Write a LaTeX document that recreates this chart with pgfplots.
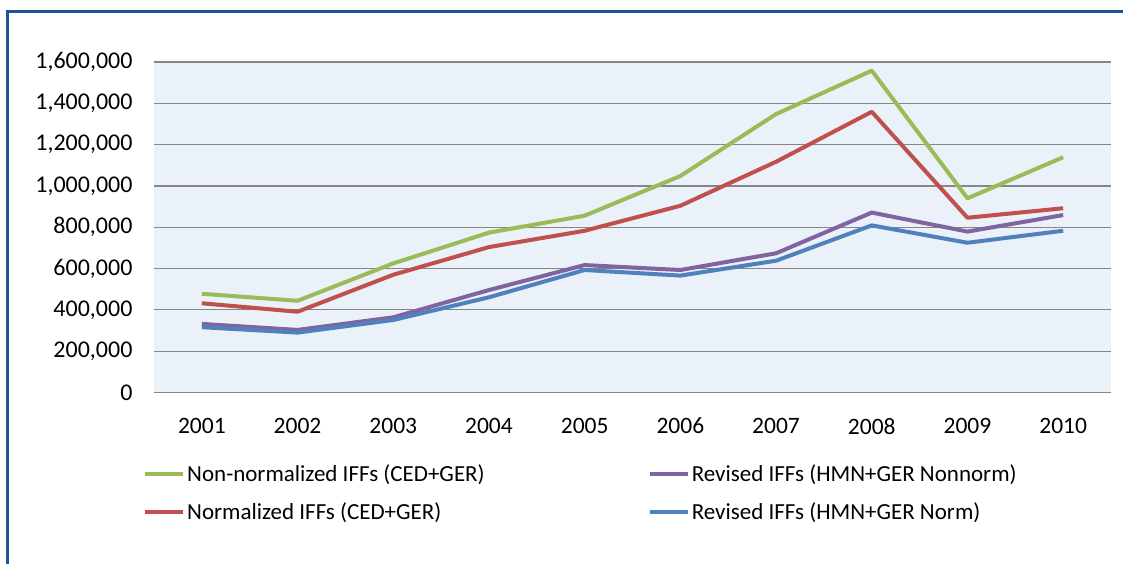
\documentclass[border=0pt]{standalone}
\usepackage{pgfplots}
\pgfplotsset{compat=1.18}
\usepackage{fontspec}
\setmainfont{Carlito}
\definecolor{cgreen}{HTML}{9BBB59}
\definecolor{cred}{HTML}{C0504D}
\definecolor{cpurple}{HTML}{8064A2}
\definecolor{cblue}{HTML}{4F81BD}
\definecolor{cbg}{HTML}{EAF1F8}
\definecolor{cgrid}{HTML}{868686}
\definecolor{cframe}{HTML}{1B5497}
\begin{document}
\begin{tikzpicture}
\useasboundingbox (0pt,0pt) rectangle (1123pt,563pt);
\fill[white] (0pt,0pt) rectangle (1123pt,563pt);
\draw[cframe, line width=3pt] (7pt,-10pt) -- (7pt,551pt) -- (1130pt,551pt);
\begin{axis}[
  at={(154pt,170.5pt)}, anchor=south west,
  scale only axis, width=957pt, height=330.5pt,
  xmin=0.5, xmax=10.5, ymin=0, ymax=1600000,
  xtick={1,...,10},
  xticklabels={2001,2002,2003,2004,2005,2006,2007,2008,2009,2010},
  ytick={0,200000,...,1600000},
  scaled y ticks=false,
  yticklabel={\pgfmathprintnumber[fixed,1000 sep={,}]{\tick}},
  /pgf/number format/assume math mode=true,
  tick label style={font=\fontsize{23.5}{28}\selectfont},
  xticklabel style={yshift=-22pt},
  yticklabel style={xshift=-18pt, font=\fontsize{24}{28}\selectfont},
  axis background/.style={fill=cbg},
  axis x line*=bottom, axis y line*=left,
  x axis line style={cgrid, line width=1.5pt, -},
  y axis line style={draw=none},
  major tick length=0pt,
  ymajorgrids, grid style={cgrid, line width=1.2pt},
  legend columns=2, transpose legend,
  legend cell align=left,
  legend image code/.code={\draw[#1, line width=4pt] (0pt,0pt) -- (38pt,0pt);},
  legend style={draw=none, fill=none, at={(-11pt,-70pt)}, anchor=north west,
    font=\fontsize{23}{28}\selectfont, row sep=16pt, inner sep=0pt,
    /tikz/every even column/.append style={column sep=161pt},
    nodes={inner sep=2pt}},
  every axis plot/.append style={line width=4pt, line join=round},
]
\addplot[cgreen] coordinates {(1,478000)(2,444000)(3,625000)(4,774000)(5,856000)(6,1048000)(7,1348000)(8,1558000)(9,940000)(10,1139000)};
\addlegendentry{Non-normalized IFFs (CED+GER)}
\addplot[cred] coordinates {(1,432000)(2,391000)(3,570000)(4,704000)(5,783000)(6,904000)(7,1117000)(8,1359000)(9,846000)(10,892000)};
\addlegendentry{Normalized IFFs (CED+GER)}
\addplot[cpurple] coordinates {(1,332000)(2,303000)(3,364000)(4,496000)(5,617000)(6,593000)(7,674000)(8,871000)(9,779000)(10,859000)};
\addlegendentry{Revised IFFs (HMN+GER Nonnorm)}
\addplot[cblue] coordinates {(1,316000)(2,290000)(3,351000)(4,461000)(5,593000)(6,566000)(7,638000)(8,809000)(9,725000)(10,783000)};
\addlegendentry{Revised IFFs (HMN+GER Norm)}
\end{axis}
\end{tikzpicture}
\end{document}
